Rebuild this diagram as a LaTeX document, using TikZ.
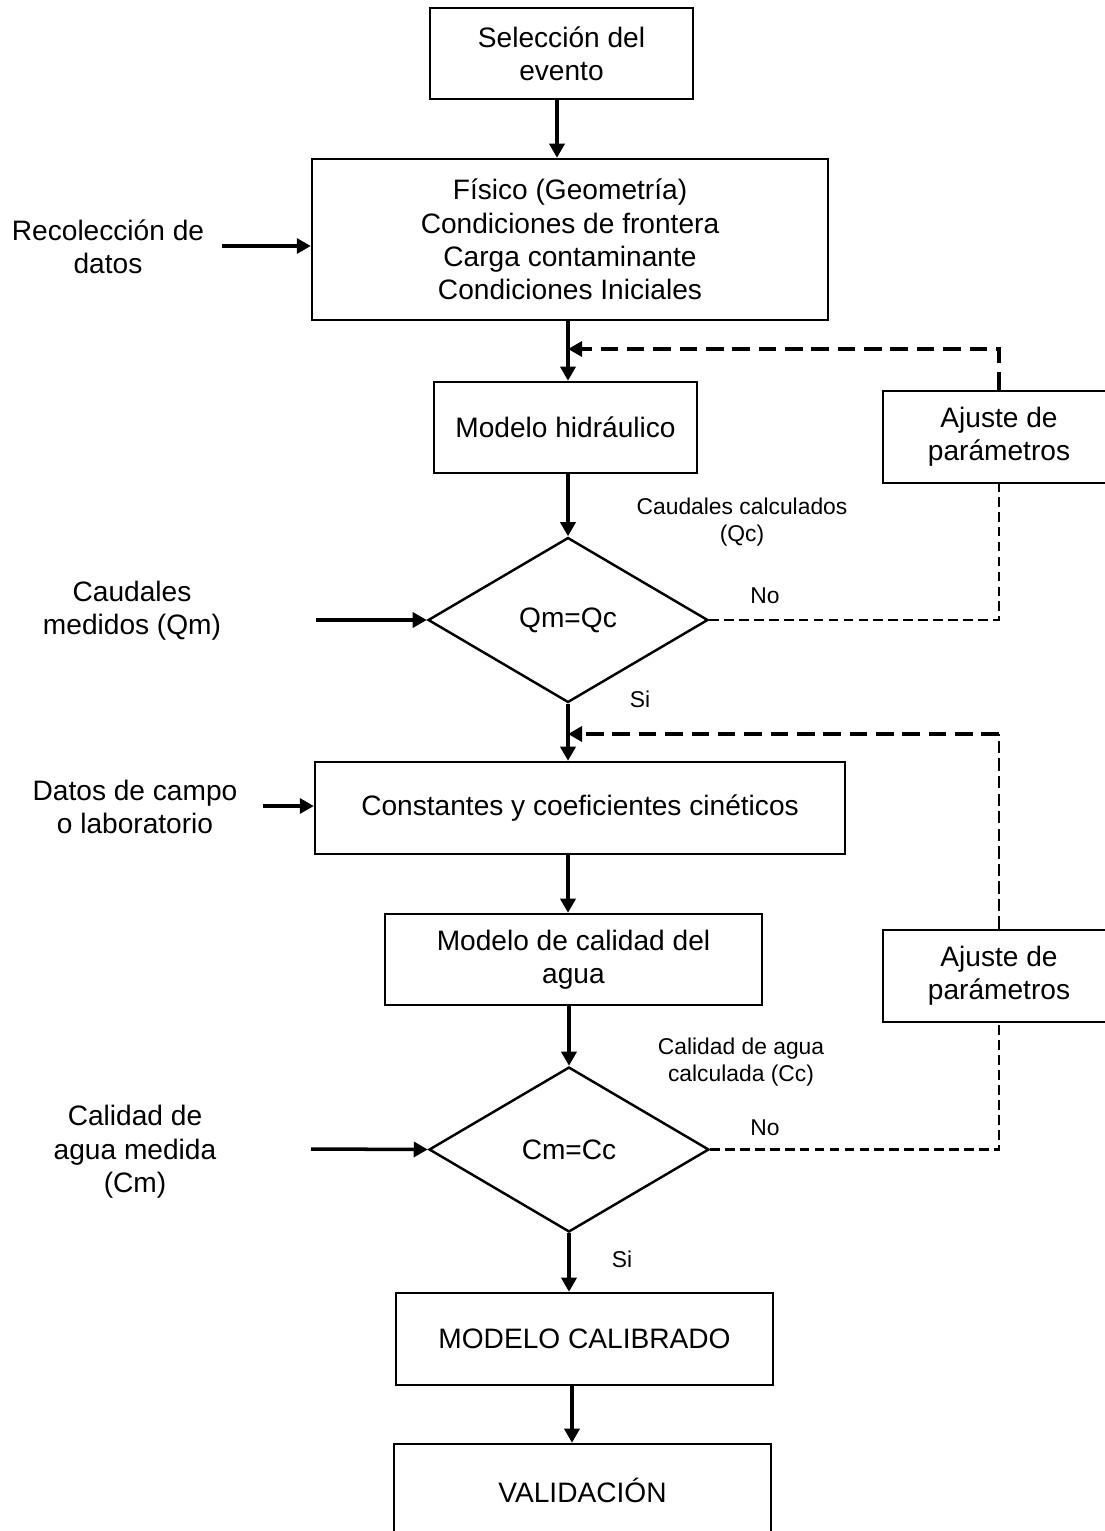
\documentclass[tikz,border=0pt]{standalone}
\usepackage{fontspec}
\setmainfont{Liberation Sans}
\usetikzlibrary{positioning, arrows.meta, shapes.geometric, calc}

\begin{document}
\begin{tikzpicture}[
  x=0.02cm, y=-0.02cm,
  box/.style={draw, line width=1.4pt, align=center, inner sep=0pt,
              font=\fontsize{16}{19}\selectfont},
  decision/.style={draw, diamond, line width=1.4pt, inner sep=0pt,
              font=\fontsize{16}{19}\selectfont,
              minimum width=5.6cm, minimum height=3.3cm},
  input/.style={align=center, font=\fontsize{16}{19}\selectfont},
  note/.style={align=center, font=\fontsize{13}{15.4}\selectfont},
  flow/.style={line width=2pt, -{Triangle[length=8pt, width=8.5pt]}},
  back/.style={line width=2pt, dash pattern=on 10pt off 5pt,
              -{Triangle[length=8pt, width=8.5pt]}},
  nobranch/.style={line width=1.5pt, dash pattern=on 5.5pt off 3pt},
  rise/.style={line width=1.5pt, dash pattern=on 7pt off 3pt},
]
  \useasboundingbox (0,0) rectangle (1105,1531);

  \node[box, minimum width=5.26cm, minimum height=1.82cm] (evento) at (561.5,53.5)
    {Selección del\\evento};
  \node[box, minimum width=10.32cm, minimum height=3.22cm] (fisico) at (570,239.5)
    {Físico (Geometría)\\Condiciones de frontera\\Carga contaminante\\Condiciones Iniciales};
  \node[box, minimum width=5.26cm, minimum height=1.82cm] (hidra) at (565.5,427.5)
    {Modelo hidráulico};
  \node[box, minimum width=4.64cm, minimum height=1.84cm] (ajusteA) at (999,437)
    {Ajuste de\\parámetros};
  \node[decision] (qdec) at (568,620) {Qm=Qc};
  \node[box, minimum width=10.6cm, minimum height=1.84cm] (cinet) at (580,808)
    {Constantes y coeficientes cinéticos};
  \node[box, minimum width=7.54cm, minimum height=1.82cm] (calidad) at (573.5,959.5)
    {Modelo de calidad del\\agua};
  \node[box, minimum width=4.64cm, minimum height=1.84cm] (ajusteB) at (999,976)
    {Ajuste de\\parámetros};
  \node[decision] (cdec) at (569,1149.5) {Cm=Cc};
  \node[box, minimum width=7.54cm, minimum height=1.84cm] (calib) at (584.5,1339)
    {MODELO CALIBRADO};
  \node[box, minimum width=7.54cm, minimum height=1.84cm] (valid) at (582.5,1490)
    {VALIDACIÓN};

  \node[input] (recol) at (108,247) {Recolección de\\datos};
  \node[input] (qmed) at (132,611) {Caudales\\medidos (Qm)};
  \node[input] (campo) at (135,807) {Datos de campo\\o laboratorio};
  \node[input] (cmed) at (135,1152) {Calidad de\\agua medida\\(Cm)};

  \node[note] (qcalc) at (742,522) {Caudales calculados\\(Qc)};
  \node[note] (ccalc) at (741,1062) {Calidad de agua\\calculada (Cc)};
  \node[note] (noA) at (765,596) {No};
  \node[note] (siA) at (640,699) {Si};
  \node[note] (noB) at (765,1128) {No};
  \node[note] (siB) at (622,1259) {Si};

  \coordinate (recolIn) at (222,246);
  \coordinate (qmIn) at (316,620);
  \coordinate (campoIn) at (263,806);
  \coordinate (cmIn) at (311,1149);
  \coordinate (joinA) at (568,349);
  \coordinate (joinB) at (568,734);
  \coordinate (cornerB) at (ajusteB.north |- joinB);

  \draw[flow] ([xshift=-0.09cm]evento.south) -- ([xshift=-0.09cm]evento.south |- fisico.north);
  \draw[flow] (recolIn) -- (recolIn -| fisico.west);
  \draw[flow] (qdec.north |- fisico.south) -- (qdec.north |- hidra.north);
  \draw[back] (ajusteA.north) |- (joinA);
  \draw[flow] (qdec.north |- hidra.south) -- (qdec.north);
  \draw[nobranch] (qdec.east) -| (ajusteA.south);
  \draw[flow] (qmIn) -- (qdec.west);
  \draw[flow] (qdec.south) -- (qdec.south |- cinet.north);
  \draw[rise] (ajusteB.north) -- (cornerB);
  \draw[back] (cornerB) -- (joinB);
  \draw[flow] (campoIn) -- (campoIn -| cinet.west);
  \draw[flow] (qdec.south |- cinet.south) -- (qdec.south |- calidad.north);
  \draw[flow] (cdec.north |- calidad.south) -- (cdec.north);
  \draw[nobranch] (cdec.east) -| (ajusteB.south);
  \draw[flow] (cmIn) -- (cdec.west);
  \draw[flow] (cdec.south) -- (cdec.south |- calib.north);
  \draw[flow] ([xshift=-0.25cm]calib.south) -- ([xshift=-0.25cm]calib.south |- valid.north);
\end{tikzpicture}
\end{document}
